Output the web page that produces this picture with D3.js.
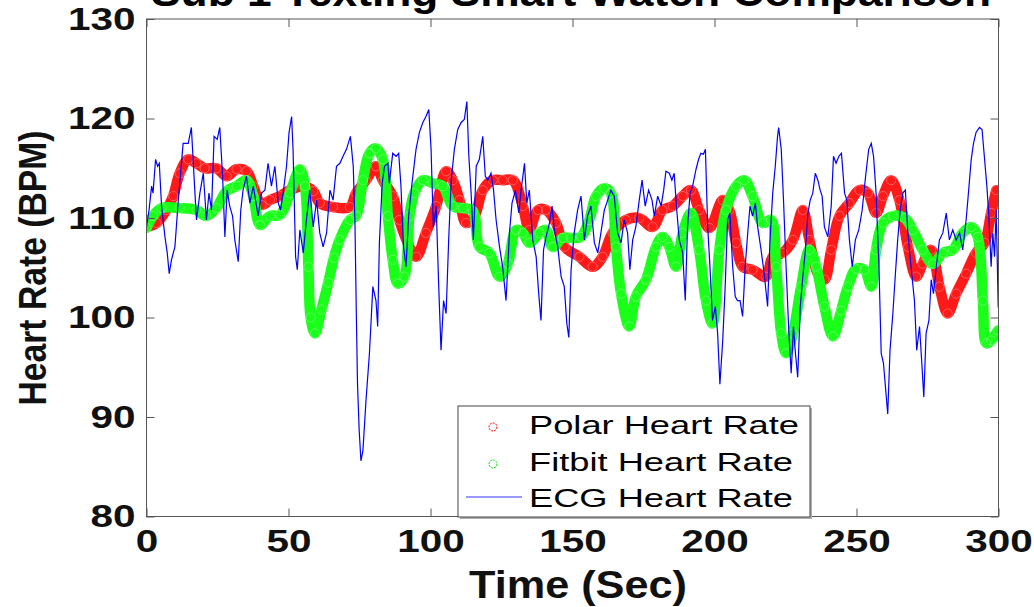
<!DOCTYPE html>
<html>
<head>
<meta charset="utf-8">
<script src="https://cdn.jsdelivr.net/npm/d3@7"></script>
<style>
  html, body { margin: 0; padding: 0; background: #fff; }
  svg { display: block; font-family: "Liberation Sans", Arial, sans-serif; }
</style>
</head>
<body>
<svg id="chart" width="1034" height="607"></svg>
<script>
// ---------------- data ----------------
const titleText = "Sub 1 Texting Smart Watch Comparison";
const xLabel = "Time (Sec)";
const yLabel = "Heart Rate (BPM)";
const xTicks = [0, 50, 100, 150, 200, 250, 300];
const yTicks = [80, 90, 100, 110, 120, 130];
const seriesNames = ["Polar Heart Rate", "Fitbit Heart Rate", "ECG Heart Rate"];

const polarTime = [0,3.5,7,9.4,11.7,14.7,17.6,20.5,24.6,28.2,31.7,35.2,37.6,40.5,43.4,47,50.5,55.2,58.7,61,65.7,71.6,
  73.8,77.3,80.8,83.2,86.7,89,92.6,95,98.4,102,105.5,107.8,110.2,112.5,115.5,118.4,121.9,125.4,129,132.5,134.8,137.8,140.7,144.2,147.2,
  152.4,157.1,160.6,164.1,168.8,173.5,178.2,181.7,185.3,188.8,191.7,194.6,198.2,202.9,205.2,207.6,209.9,213.4,218.1,220.5,
  224,227.6,231.1,233.4,236.4,238.7,241.1,244,247.5,251,254,256.9,259.3,262.2,265.1,268.1,271,273.3,276.3,279.2,282.1,285.1,288.6,292.1,295.1,297.4,299.2];
const polarBpm = [109.1,109.5,110.8,112.2,114.5,115.9,115.5,115,115,114.2,114.9,114.7,113.2,111.3,111.8,112.2,112.8,113.2,112.7,111.5,111.1,111.1,
  112.5,113.8,115.2,113.8,112.2,109.8,107.1,106.1,108.5,111.2,114.7,113.8,111.8,109.5,110.2,112.8,113.8,113.8,113.8,111.2,108.8,110.8,110.8,109.5,107.1,
  106.1,105.1,106.1,108.5,109.8,110,109.1,110.8,111.2,112.2,112.8,110.8,109,111.8,110.8,107.5,105.1,104.8,104.1,106.1,
  106.5,107.8,110.8,107.8,104.4,103.8,106.8,110.2,111.5,112.8,112.5,110.5,112.2,113.8,111.8,107.1,104.1,105.4,106.8,103.1,100.4,102.4,104.4,106.5,107.5,110.5,112.8];

const fitbitTime = [0,2.3,5.3,11.7,17.6,21,24.6,28.2,31.7,35.2,37.6,40,43.4,47,50.5,54,55.8,57,57.8,59.3,61.6,64,66,68,71.6,
  73.8,76.2,78.5,80.8,83.2,85,86.7,88.5,90.8,92.6,94.3,97.3,100.8,104.3,107.8,111.4,114.9,117.2,120.7,124.3,127.2,130.1,132.5,134.8,138.4,140.7,143,146.6,149.5,
  153,155.9,158.3,161.2,163.5,165.3,167.1,170,172.3,175.9,179.4,181.7,184.1,186.4,188.8,191.7,194.6,197,199.3,201.7,204,207.6,210.5,213.4,217,219.9,
  221.7,223.5,225.2,227.6,230.5,233.4,235.8,238.7,241.7,244.6,247,249.9,252.8,255.2,256.9,259.3,262.8,266.9,269.8,273.3,276.9,280.4,283.9,287.4,290.4,292.7,294.5,295.7,297.4,299.8];
const fitbitBpm = [109,110.2,111,111,110.8,110.2,111,112.7,113.2,113.8,112.2,109.3,110.2,110.3,112.5,114.9,113.2,105.1,100,98.4,100.8,103.5,106,107.8,109.8,
  110.2,113.8,116.5,117,115.9,110.2,105.8,103.4,104.1,110.2,112.5,113.8,113.5,113.2,111.2,111,110.7,107.1,106.5,104.1,105.4,108.8,108.5,107.5,108.5,108.8,107.1,108,108,
  108.1,109.8,112.2,113,112.5,107.1,102.4,99.1,102.1,103.8,107.1,108.1,107.1,105.1,108.5,110.5,106.8,101.7,99.4,106.8,110.8,113.2,113.8,112.2,109.5,109.8,
  105.1,98.4,96.4,98.4,103.1,106.8,105.1,101.1,98.1,100.7,103.1,104.9,104.8,103.1,106.8,109.5,110.2,110,108.8,106.8,105.4,106.5,106.8,108.5,109.1,108.1,101.7,97.4,97.7,98.7];

const ecgTime = [0,0.9,1.8,2.3,3.2,3.9,4.5,5.3,6.5,7.3,8,8.8,10,11.2,12.9,14.7,15.8,17,17.6,18.8,20,21.1,22,22.9,23.8,24.9,25.8,26.8,27.6,28.4,29.3,30.3,31.1,32.3,33.2,34,35.2,36.4,37.6,39.3,
  40.5,41.7,42.8,44,45.2,46.4,47.2,48.1,49.3,50.2,51.1,51.6,52.5,53.1,54,55.2,56.3,57.5,58.7,59.9,61,62.2,63.4,64.6,65.7,66.9,68.1,69.2,70.4,71.8,72.8,73.4,73.9,74.3,74.9,75.5,
  76.2,77.3,78.5,79.7,80.8,81.4,82,83,83.8,85,85.5,86.7,87.9,88.8,89.6,90.5,91.4,92.3,93.5,94.9,96.1,97.3,98.4,99.4,100.2,101,102,102.9,103.7,104.6,105.5,106.4,107.3,108.4,109.6,110.8,111.9,112.8,
  113.5,114.3,115.1,116.1,117.2,118.4,119.3,120.2,121.3,122.2,123.1,124.3,125.4,126.6,127.8,128.7,129.9,131.1,131.9,133.1,133.9,134.8,136,137.2,138.1,138.9,139.8,140.7,141.9,142.8,143.6,144.8,146,147.1,148,148.7,
  149.5,150.6,151.8,153,154.2,155.3,156.5,157.7,158.9,160,161.2,162.4,163.5,164.7,165.9,167.1,168.2,169.4,170.2,171.2,172.3,173.5,174.5,175.6,176.8,178,178.8,180,181.2,182.1,182.9,184.1,185,185.8,186.7,187.6,188.8,189.7,
  190.5,191.4,192.3,193.5,194.4,195.2,196.1,196.8,197.6,198.4,199.3,200.3,201.1,201.9,202.9,203.8,204.6,205.4,206.4,207.3,208.1,209,209.9,210.8,211.7,212.5,213.4,214.4,215.2,216.4,217.5,218.7,219.5,220.5,221.4,222.2,222.6,
  223.5,224.3,225.2,226.2,227,227.8,228.5,229.3,230.2,231.1,232,232.9,233.7,234.6,235.5,236.4,237.2,237.9,238.7,239.9,241.1,241.9,242.8,243.8,244.7,245.8,246.6,247.5,248.5,249.6,250.8,252,253.2,254.3,255.2,256,256.9,257.9,
  258.7,259.5,260.2,261,261.8,262.8,263.7,264.5,265.4,266.3,267.2,268.1,269.2,270.4,271.2,272.2,273,273.7,274.5,275.5,276.3,277.1,278.1,279.2,280.4,281.6,282.7,283.9,285.1,286.3,287.4,288.6,289.5,290.4,291.2,292.1,293.3,294.2,
  295.1,295.9,296.6,297.4,298,298.6,299.2,299.9];
const ecgBpm = [109.1,110.8,113.2,112.5,115.9,115.2,115.5,111.2,108.1,106.5,104.4,105.8,107.1,111.8,117.5,117.5,119.1,112.8,109.8,112.5,114.5,109.8,112.5,110.8,118.2,117.9,119.1,114.2,108.1,112.8,111.2,110.2,107.8,105.6,110.8,112.8,114.2,111.5,113.2,110.2,
  112.5,112.8,115.5,113.2,115.2,111.5,110.8,112.5,115.2,118.6,120.2,116.9,106.1,104.8,108.8,106.5,109.8,112.8,109.1,111.8,108.5,107.1,108.5,112.8,111.8,115.2,115.5,116.2,116.9,118.2,115.2,109.5,100.1,93.3,88.6,85.6,
  86.6,91.7,96.4,103.1,101.7,99.1,107.5,113.5,115.2,115.5,113.5,116.5,116.2,116.5,113.2,107.1,105.1,110.2,113.5,116.9,118.6,119.6,120.2,120.9,116.9,109.1,111.2,103.1,96.7,101.7,100.4,107.8,113.8,116.9,118.9,119.6,119.9,121.7,
  116.2,112.5,107.8,115.2,115.9,118.2,114.2,113.8,114.5,112.8,109.8,107.1,105.1,101.7,108.5,111.5,112.8,110.5,112.8,115.5,111.5,112.8,107.8,106.1,102.4,99.7,106.8,108.1,109.5,111.2,108.8,107.1,104.1,103.1,99.4,98,
  104.8,108.5,110.8,112.2,107.8,110.2,111.2,107.5,106.5,108.5,110.8,111.8,112.8,112.2,108.5,107.5,109.8,108.5,104.8,107.8,109.1,111.8,113.8,111.2,112.8,111.8,110.2,112.2,111.2,112.8,114.7,114.5,113.8,114.5,110.8,107.8,106.5,101.7,
  109.1,112.5,113.2,114.9,115.9,116.5,116.4,116.9,109.1,105.1,99.7,101.1,98.4,93.3,97.7,103.4,109.8,110.5,105.1,102.1,101.7,101.7,100.1,105.1,108.5,111.2,110.2,111.5,109.1,106.8,104.4,101.1,107.5,112.5,115.2,118.2,119.1,
  116.9,111.8,105.1,98.4,94.4,99.1,96.4,94,101.1,104.1,106.8,110.5,111.8,112.5,114.5,113.8,112.8,112.2,109.1,108.1,111.2,116.2,115.5,116.2,116.5,112.5,111.8,107.8,105.1,107.8,108.8,110.8,114.2,116.9,117.5,116.2,112.5,105.1,
  96.4,95.4,93,90.3,96.7,100.4,104.4,107.8,110.8,112.5,112.8,108.5,105.1,101.7,96.7,99.1,95.4,92,98.4,99.7,103.8,102.4,105.1,107.8,108.5,110.5,107.8,108.8,107.8,108.5,106.8,109.8,112.8,115.9,117.5,118.6,119.1,118.9,
  115.9,113.2,110.2,105.1,108.5,106.1,110.8,101];

// ---------------- drawing ----------------
const svg = d3.select("#chart");
const plot = { left: 146.5, right: 998.5, top: 19, bottom: 516.5 };
const x = d3.scaleLinear().domain([0, 300]).range([plot.left, plot.right]);
const y = d3.scaleLinear().domain([80, 130]).range([plot.bottom, plot.top]);
const axisColor = "#555";

svg.append("rect").attr("width", 1034).attr("height", 607).attr("fill", "#fff");

svg.append("defs").append("clipPath").attr("id", "clip")
  .append("rect").attr("x", plot.left).attr("y", plot.top)
  .attr("width", plot.right - plot.left).attr("height", plot.bottom - plot.top);

const g = svg.append("g").attr("clip-path", "url(#clip)");

function bandSeries(times, vals, color) {
  const pts = times.map((t, i) => [t, vals[i]]);
  const line = d3.line().x(d => x(d[0])).y(d => y(d[1])).curve(d3.curveCatmullRom.alpha(0.5));
  g.append("path").datum(pts).attr("d", line)
    .attr("fill", "none").attr("stroke", color).attr("stroke-width", 10.5)
    .attr("stroke-linejoin", "round").attr("stroke-linecap", "round");
  g.append("g").selectAll("circle").data(pts).join("circle")
    .attr("cx", d => x(d[0])).attr("cy", d => y(d[1])).attr("r", 4.6)
    .attr("fill", "none").attr("stroke", "#fff").attr("stroke-opacity", 0.35).attr("stroke-width", 0.8);
}
bandSeries(polarTime, polarBpm, "#ff1a1a");
bandSeries(fitbitTime, fitbitBpm, "#1aff1a");

const ecgPts = ecgTime.map((t, i) => [t, ecgBpm[i]]);
g.append("path").datum(ecgPts)
  .attr("d", d3.line().x(d => x(d[0])).y(d => y(d[1])))
  .attr("fill", "none").attr("stroke", "#0000ff").attr("stroke-width", 1.2);

// axes
const tickFont = "bold 32px 'Liberation Sans', Arial, sans-serif";
function styleAxis(sel, showText) {
  sel.select(".domain").remove();
  sel.selectAll(".tick line").attr("stroke", axisColor);
  if (!showText) sel.selectAll(".tick text").remove();
  sel.selectAll(".tick text").style("font", tickFont).attr("fill", "#111")
    .attr("textLength", d => String(d).length * 22.5).attr("lengthAdjust", "spacingAndGlyphs");
}
svg.append("g").attr("transform", `translate(0,${plot.bottom})`)
  .call(d3.axisBottom(x).tickValues(xTicks).tickSizeInner(-8).tickSizeOuter(0).tickPadding(13))
  .call(s => styleAxis(s, true));
svg.append("g").attr("transform", `translate(0,${plot.top})`)
  .call(d3.axisTop(x).tickValues(xTicks).tickSizeInner(-8).tickSizeOuter(0))
  .call(s => styleAxis(s, false));
svg.append("g").attr("transform", `translate(${plot.left},0)`)
  .call(d3.axisLeft(y).tickValues(yTicks).tickSizeInner(-8).tickSizeOuter(0).tickPadding(11))
  .call(s => styleAxis(s, true));
svg.append("g").attr("transform", `translate(${plot.right},0)`)
  .call(d3.axisRight(y).tickValues(yTicks).tickSizeInner(-8).tickSizeOuter(0))
  .call(s => styleAxis(s, false));

svg.append("rect").attr("x", plot.left).attr("y", plot.top)
  .attr("width", plot.right - plot.left).attr("height", plot.bottom - plot.top)
  .attr("fill", "none").attr("stroke", axisColor).attr("stroke-width", 1);

// labels
svg.append("text").text(titleText)
  .attr("x", 571).attr("y", 6).attr("text-anchor", "middle")
  .attr("textLength", 840).attr("lengthAdjust", "spacingAndGlyphs")
  .style("font", "bold 40px 'Liberation Sans', Arial, sans-serif").attr("fill", "#000");
svg.append("text").text(xLabel)
  .attr("x", 578).attr("y", 598).attr("text-anchor", "middle")
  .attr("textLength", 218).attr("lengthAdjust", "spacingAndGlyphs")
  .style("font", "bold 39px 'Liberation Sans', Arial, sans-serif").attr("fill", "#111");
svg.append("text").text(yLabel)
  .attr("transform", "translate(46,268) rotate(-90)").attr("text-anchor", "middle")
  .attr("textLength", 275).attr("lengthAdjust", "spacingAndGlyphs")
  .style("font", "bold 38px 'Liberation Sans', Arial, sans-serif").attr("fill", "#111");

// legend
const lg = svg.append("g");
lg.append("rect").attr("x", 460).attr("y", 408).attr("width", 352).attr("height", 111).attr("fill", "#b0b0b0");
lg.append("rect").attr("x", 458).attr("y", 406).attr("width", 352).attr("height", 111)
  .attr("fill", "#fff").attr("stroke", "#444").attr("stroke-width", 1);
const legendColors = ["#ff0000", "#00e000", "#3030ff"];
const legendBase = [434, 471, 507];
const legendLen = [270, 264, 264];
seriesNames.forEach((name, i) => {
  if (i < 2) {
    lg.append("circle").attr("cx", 493).attr("cy", legendBase[i] - 7).attr("r", 4)
      .attr("fill", "none").attr("stroke", legendColors[i]).attr("stroke-width", 1)
      .attr("stroke-dasharray", "2,1");
  } else {
    lg.append("line").attr("x1", 466).attr("x2", 522).attr("y1", legendBase[i] - 10).attr("y2", legendBase[i] - 10)
      .attr("stroke", legendColors[i]).attr("stroke-width", 1);
  }
  lg.append("text").text(name).attr("x", 529).attr("y", legendBase[i])
    .attr("textLength", legendLen[i]).attr("lengthAdjust", "spacingAndGlyphs")
    .style("font", "26px 'Liberation Sans', Arial, sans-serif").attr("fill", "#000");
});
</script>
</body>
</html>
